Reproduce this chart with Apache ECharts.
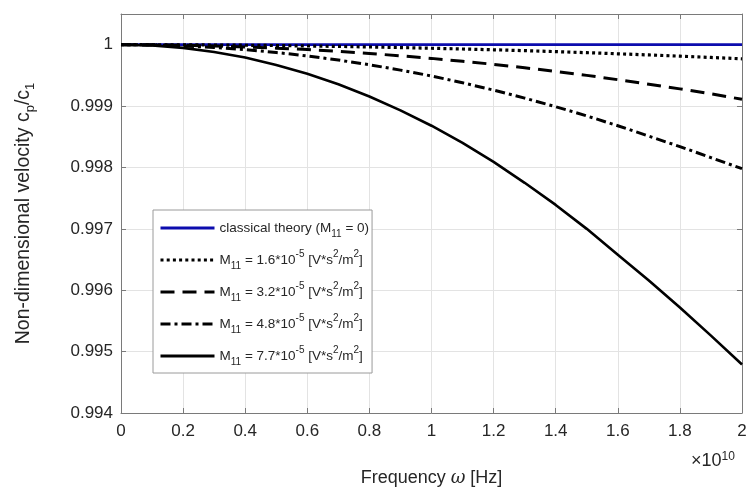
<!DOCTYPE html>
<html>
<head>
<meta charset="utf-8">
<script src="https://cdn.jsdelivr.net/npm/echarts@6/dist/echarts.min.js"></script>
<style>html,body{margin:0;padding:0;background:#fff;}#c{width:747px;height:488px;}</style>
</head>
<body>
<div id="c"></div>
<script>
// Frequency in units of 1e10 Hz
const freq = [0,0.1,0.2,0.3,0.4,0.5,0.6,0.7,0.8,0.9,1.0,1.1,1.2,1.3,1.4,1.5,1.6,1.7,1.8,1.9,2.0];
const classical = [1,1,1,1,1,1,1,1,1,1,1,1,1,1,1,1,1,1,1,1,1];
const m16 = [1,0.9999994,0.9999977,0.999995,0.999991,0.999986,0.999979,0.999972,0.999963,0.999953,0.999942,0.99993,0.999917,0.999903,0.999887,0.99987,0.999852,0.999833,0.999813,0.999792,0.99977];
const m32 = [1,0.999998,0.999991,0.99998,0.999964,0.999944,0.99992,0.999891,0.999857,0.999819,0.999777,0.99973,0.99968,0.999624,0.999564,0.9995,0.99943,0.999357,0.99928,0.9992,0.99911];
const m48 = [1,0.999995,0.99998,0.999954,0.999919,0.999873,0.999817,0.99975,0.999673,0.999586,0.99949,0.99938,0.99926,0.99913,0.99899,0.99884,0.99868,0.99851,0.99834,0.99816,0.99798];
const m77 = [1,0.999987,0.999948,0.999882,0.99979,0.99967,0.999525,0.999355,0.999155,0.99893,0.99868,0.9984,0.99809,0.99775,0.99739,0.997,0.99658,0.99616,0.99572,0.99526,0.99479];
const seriesNames = [
  'classical theory (M{sub|11} = 0)',
  'M{sub|11} = 1.6*10{sup|-5} [V*s{sup|2}/m{sup|2}]',
  'M{sub|11} = 3.2*10{sup|-5} [V*s{sup|2}/m{sup|2}]',
  'M{sub|11} = 4.8*10{sup|-5} [V*s{sup|2}/m{sup|2}]',
  'M{sub|11} = 7.7*10{sup|-5} [V*s{sup|2}/m{sup|2}]'
];
const xTicks = ['0','0.2','0.4','0.6','0.8','1','1.2','1.4','1.6','1.8','2'];
const yTicks = ['0.994','0.995','0.996','0.997','0.998','0.999','1'];

const FONT = '"Liberation Sans", Arial, Helvetica, sans-serif';
const TXT = '#262626';
const AX = '#7a7a7a';

function pairs(ys){ return freq.map((x,i)=>[x, ys[i]]); }

const styles = [
  {color:'#0c0cae', width:2.8, type:'solid'},
  {color:'#000', width:3.2, type:[3,3.2]},
  {color:'#000', width:3, type:[14,8]},
  {color:'#000', width:3, type:[10,4,3,4]},
  {color:'#000', width:2.6, type:'solid'}
];
const datas = [classical, m16, m32, m48, m77];

const chart = echarts.init(document.getElementById('c'), null, {renderer:'canvas'});
const subsup = {
  sub:{fontSize:10, fontFamily:FONT, color:TXT, verticalAlign:'bottom', lineHeight:12},
  sup:{fontSize:10, fontFamily:FONT, color:TXT, verticalAlign:'top', lineHeight:12}
};
chart.setOption({
  animation:false,
  backgroundColor:'#fff',
  grid:{left:121, right:5, top:14, bottom:75, containLabel:false, outerBoundsMode:'none'},
  xAxis:[{
    type:'value', min:0, max:2, interval:0.2,
    name:'Frequency {i|ω} [Hz]', nameLocation:'middle', nameGap:56,
    nameTextStyle:{fontFamily:FONT, fontSize:18, color:TXT, rich:{i:{fontFamily:'"DejaVu Serif", serif', fontStyle:'italic', fontSize:18, color:TXT}}},
    axisLine:{show:true, onZero:false, lineStyle:{color:AX, width:1}},
    axisTick:{show:true, inside:true, length:5, lineStyle:{color:AX}},
    axisLabel:{fontFamily:FONT, fontSize:17, color:TXT, margin:10,
      formatter:(v)=>{const i=Math.round(v/0.2); return xTicks[i]!==undefined?xTicks[i]:'';}},
    splitLine:{show:true, lineStyle:{color:'#e3e3e3', width:1}}
  },{
    type:'value', position:'top', min:0, max:2, interval:0.2,
    axisLine:{show:true, onZero:false, lineStyle:{color:AX, width:1}},
    axisTick:{show:true, inside:true, length:5, lineStyle:{color:AX}},
    axisLabel:{show:false}, splitLine:{show:false}
  }],
  yAxis:[{
    type:'value', min:0.994, max:1.0005, interval:0.001,
    name:'Non-dimensional velocity c{sub|p}/c{sub|1}', nameLocation:'middle', nameGap:84,
    nameTextStyle:{fontFamily:FONT, fontSize:19.5, color:TXT, lineHeight:26,
      rich:{sub:{fontSize:13, fontFamily:FONT, color:TXT, verticalAlign:'bottom', lineHeight:14}}},
    axisLine:{show:true, onZero:false, lineStyle:{color:AX, width:1}},
    axisTick:{show:true, inside:true, length:5, lineStyle:{color:AX}},
    axisLabel:{fontFamily:FONT, fontSize:17, color:TXT, margin:8,
      formatter:(v)=>{ if (v>1.0001) return ''; const i=Math.round((v-0.994)/0.001); return yTicks[i]!==undefined?yTicks[i]:''; }},
    splitLine:{show:true, lineStyle:{color:'#e3e3e3', width:1}}
  },{
    type:'value', position:'right', min:0.994, max:1.0005, interval:0.001,
    axisLine:{show:true, onZero:false, lineStyle:{color:AX, width:1}},
    axisTick:{show:true, inside:true, length:5, lineStyle:{color:AX}},
    axisLabel:{show:false}, splitLine:{show:false}
  }],
  legend:{
    orient:'vertical', left:153, top:210,
    padding:[7,3,6,6], itemGap:10, itemWidth:54, itemHeight:14,
    backgroundColor:'#fff', borderColor:'#9a9a9a', borderWidth:1, borderRadius:0,
    itemStyle:{opacity:0},
    lineStyle:{width:3},
    data:seriesNames,
    textStyle:{fontFamily:FONT, fontSize:13.5, color:TXT, lineHeight:22, rich:subsup}
  },
  graphic:[{
    type:'text', left:691, top:451,
    style:{text:'×10{sup|10}', font:'18px '+FONT, fill:TXT, lineHeight:20,
      rich:{sup:{fontSize:12, fontFamily:FONT, fill:TXT, verticalAlign:'top', lineHeight:12}}}
  }],
  series:datas.map((d,k)=>({
    name:seriesNames[k], type:'line', xAxisIndex:0, yAxisIndex:0,
    data:pairs(d), showSymbol:false, symbol:'none', smooth:false,
    lineStyle:{color:styles[k].color, width:styles[k].width, type:styles[k].type, cap:'butt'},
    itemStyle:{color:styles[k].color},
    z:2+k
  }))
});
</script>
</body>
</html>
